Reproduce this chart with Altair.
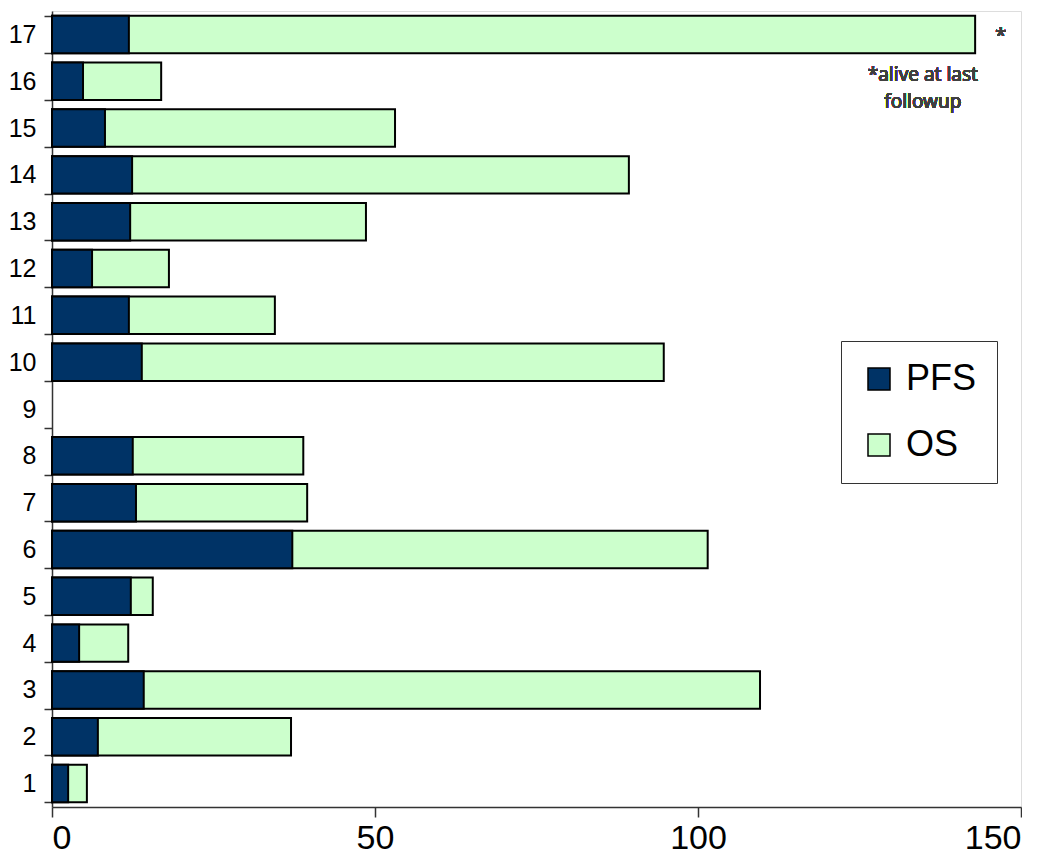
import altair as alt
import pandas as pd

patients = [str(i) for i in range(1, 18)]
pfs = [2.5, 7.1, 14.2, 4.2, 12.2, 37.2, 13.0, 12.5, None, 13.9, 11.9, 6.2, 12.1, 12.4, 8.2, 4.8, 11.9]
os_ = [5.4, 37.0, 109.6, 11.8, 15.6, 101.5, 39.5, 38.9, None, 94.7, 34.5, 18.1, 48.6, 89.3, 53.1, 16.9, 142.9]
series = ["PFS", "OS"]
colors = ["#003366", "#CCFFCC"]
x_ticks = [0, 50, 100, 150]
note_star = "*"
note_text = ["*alive at last", "followup"]

rows = []
for p, v in zip(patients, os_):
    if v is not None:
        rows.append({"patient": p, "series": "OS", "months": v})
for p, v in zip(patients, pfs):
    if v is not None:
        rows.append({"patient": p, "series": "PFS", "months": v})
df = pd.DataFrame(rows)

y_scale = alt.Scale(domain=list(reversed(patients)), paddingInner=0.2, paddingOuter=0.1)
x_scale = alt.Scale(domain=[0, 150], nice=False)

bars = alt.Chart(df).mark_bar(stroke="black", strokeWidth=2).encode(
    x=alt.X("months:Q", stack=None, scale=x_scale,
            axis=alt.Axis(values=x_ticks, title=None, grid=False, labelFontSize=34,
                          labelFont="Liberation Sans", labelColor="black",
                          tickSize=10, labelPadding=4, domainColor="#333",
                          tickColor="#333", domainWidth=1.5, tickWidth=1.5)),
    y=alt.Y("patient:N", scale=y_scale, sort=None,
            axis=alt.Axis(title=None, tickBand="extent", labelFontSize=25,
                          labelFont="Liberation Sans", labelColor="black",
                          tickSize=8, labelPadding=8, domainColor="#333",
                          tickColor="#333", domainWidth=1.5, tickWidth=1.5)),
    color=alt.Color("series:N", scale=alt.Scale(domain=series, range=colors),
                    legend=alt.Legend(title=None, orient="none", legendX=789, legendY=330,
                                      padding=20, rowPadding=30, strokeColor="#333",
                                      fillColor="white", symbolType="square",
                                      symbolSize=484, symbolStrokeColor="black",
                                      symbolStrokeWidth=1.5, labelFontSize=36,
                                      labelFont="Liberation Sans", labelColor="black",
                                      labelOffset=9, labelLimit=200)),
)

star = alt.Chart(df).mark_text(fontSize=20, font="Noto Sans", color="#404040", align="left", dy=2).encode(
    x=alt.X(datum=146), y=alt.Y(datum="17"), text=alt.value(note_star)
)
note = alt.Chart(df).mark_text(fontSize=19, font="Noto Sans", fontWeight="normal", color="#404040",
                               align="center", lineHeight=27, dy=-6).encode(
    x=alt.X(datum=134.8), y=alt.Y(datum="16"), text=alt.value(note_text)
)

chart = alt.layer(bars, star, note).properties(
    width=969, height=796, padding={"top": -9, "left": 0, "right": 0, "bottom": 0}
).configure_view(
    stroke="#8c8c8c", strokeWidth=1.5
).configure(background="white")

chart.save("out.html", embed_options={"renderer": "svg", "actions": False})
